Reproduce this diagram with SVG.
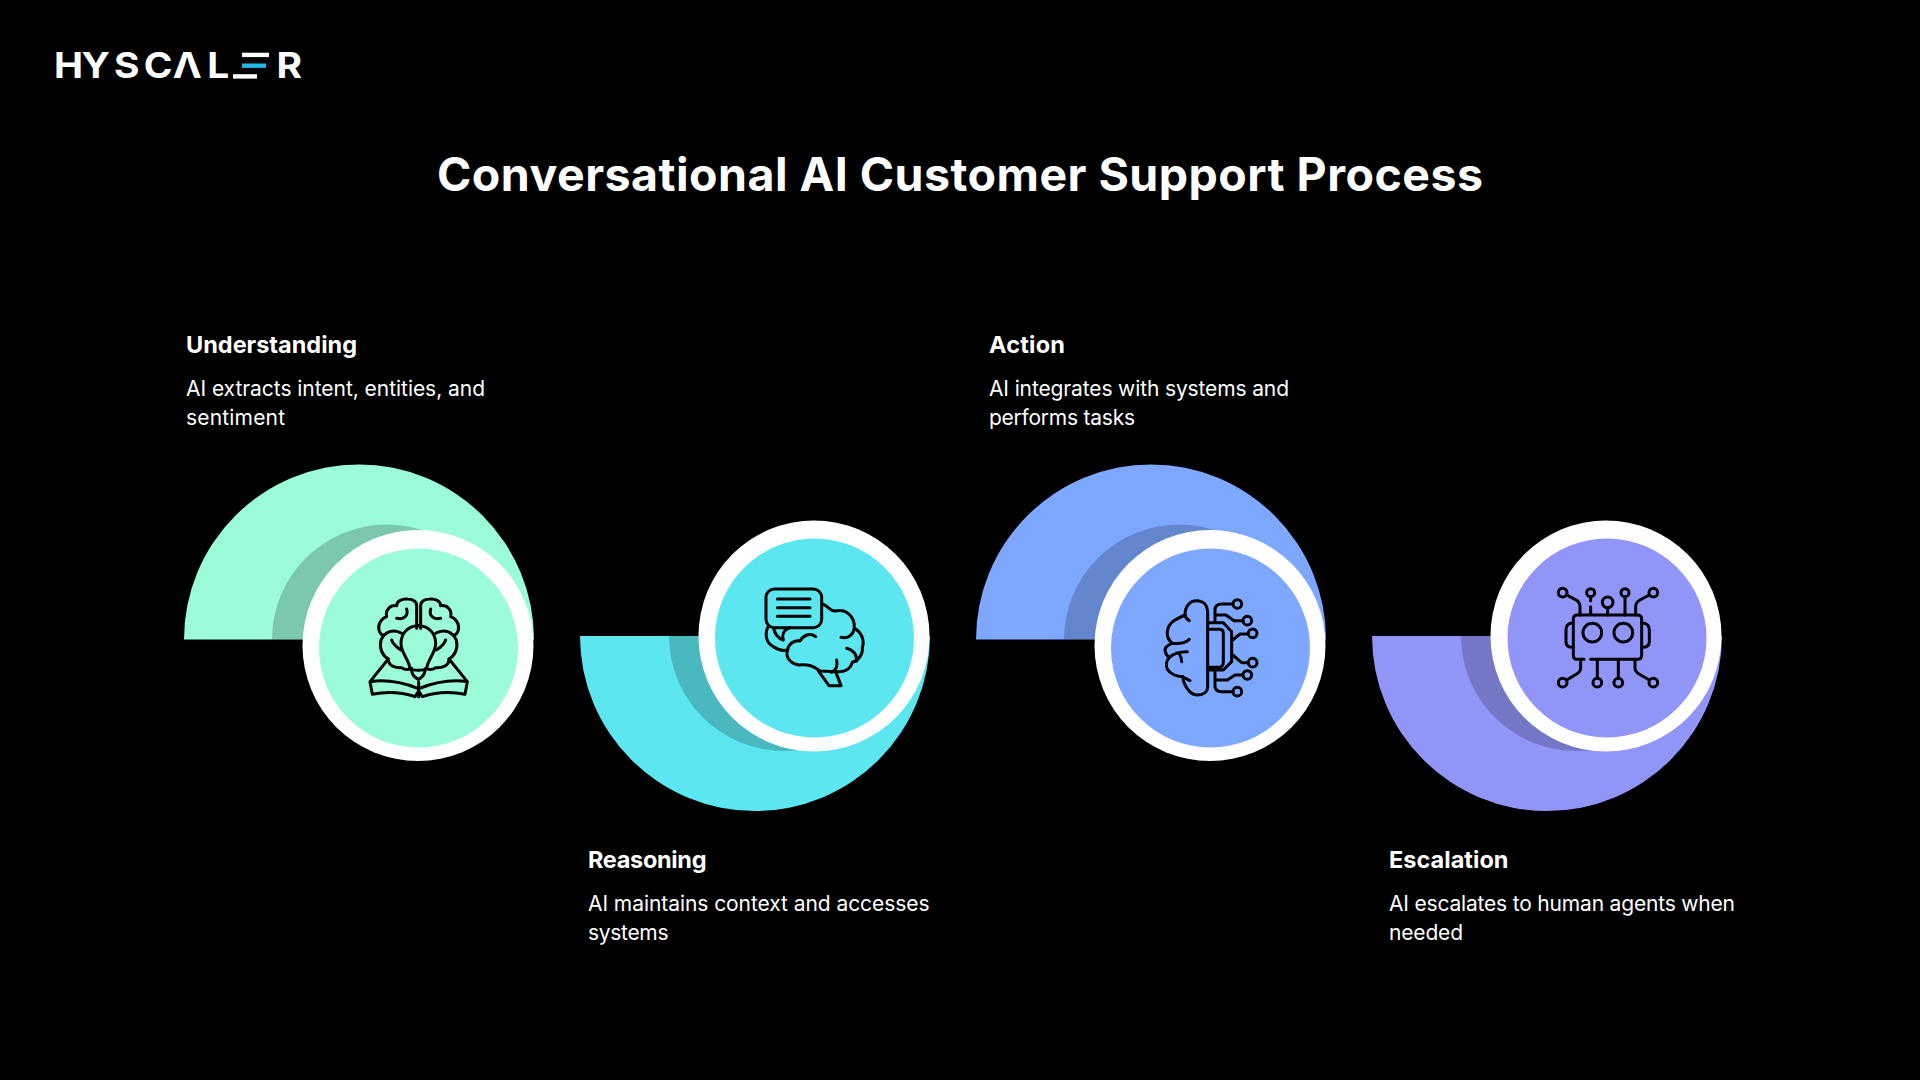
<svg xmlns="http://www.w3.org/2000/svg" width="1920" height="1080" viewBox="0 0 1920 1080">
<style>
text{font-family:"Inter","Noto Sans",sans-serif;fill:#fff}
.title{font-size:46.5px;font-weight:700}
.h{font-size:23.5px;font-weight:700}
.d{font-size:21px;font-weight:400}
.logo{font-size:36px;font-weight:700}
.ring{fill:#fff}
.shade{fill:#000;fill-opacity:.2}
.ic{fill:none;stroke:#000;stroke-width:9;stroke-linecap:round;stroke-linejoin:round}
.mint{fill:#9CFBD9}.cyan{fill:#5CE6EF}.blue{fill:#7EA8FF}.purple{fill:#9195F8}
</style>
<rect width="1920" height="1080" fill="#000"/>
<g id="logo">
<text class="logo" y="78.5" transform="scale(1.08,1)"><tspan x="50">H</tspan><tspan x="75.5">Y</tspan><tspan x="105.5">S</tspan><tspan x="133">C</tspan><tspan x="160">Λ</tspan><tspan x="192">L</tspan><tspan x="256">R</tspan></text>
<rect x="242" y="52.7" width="27" height="4.4" fill="#fff"/>
<rect x="242" y="63.5" width="24" height="4.4" fill="#22B5E8"/>
<rect x="233" y="74.2" width="24" height="4.4" fill="#fff"/>
</g>
<text id="title" class="title" x="437" y="191" textLength="1046" lengthAdjust="spacing">Conversational AI Customer Support Process</text>
<g id="understanding">
<path class="mint" d="M184,639.5A175,175 0 0 1 534,639.5Z"/>
<path class="shade" d="M272,639.5A115,115 0 0 1 502,639.5Z"/>
<circle class="ring" cx="418" cy="645.5" r="115.5"/>
<circle class="mint" cx="418.5" cy="648" r="99.5"/>
<g class="ic" transform="translate(355,585) scale(.3333)">
<g id="halfA">
<path d="M185,130V62C185,48 170,42 158,42C140,40 125,50 125,62C105,60 90,75 95,95C78,100 68,120 72,135C75,145 78,150 85,150"/>
<path d="M140,145C115,130 90,140 78,165C72,190 82,212 100,222C100,240 115,250 140,248C150,255 160,255 170,250"/>
<path d="M155,72C160,90 150,105 125,100M110,165C115,180 130,190 138,195"/>
<path d="M100,222L45,290C100,282 150,295 188,310M45,290L52,328C100,318 140,322 180,335L190,320"/>
</g>
<use href="#halfA" transform="translate(382,0) scale(-1,1)"/>
<path d="M190,122C155,122 138,150 138,175C138,205 160,220 165,250C170,258 210,258 215,250C220,220 242,205 242,175C242,150 225,122 190,122Z"/>
<path d="M170,258C172,272 180,278 190,283C200,278 208,272 210,258M191,290V335"/>
</g>
<text class="h" x="186" y="352.5" textLength="171" lengthAdjust="spacing">Understanding</text>
<text class="d" x="186" y="396" textLength="299" lengthAdjust="spacing">AI extracts intent, entities, and</text>
<text class="d" x="186" y="425" textLength="99" lengthAdjust="spacing">sentiment</text>
</g>
<g id="reasoning">
<path class="cyan" d="M580,636A175,175 0 0 0 930,636Z"/>
<path class="shade" d="M669,636A115,115 0 0 0 899,636Z"/>
<circle class="ring" cx="814" cy="636" r="115.5"/>
<circle class="cyan" cx="814.5" cy="638" r="99.5"/>
<g class="ic" transform="translate(755,575) scale(.3333)">
<rect x="33" y="42" width="167" height="116" rx="25"/>
<path d="M67,72H165M67,98H165M67,124H165"/>
<path d="M55,158C60,180 70,190 85,195C80,180 85,165 105,158"/>
<path d="M205,88C222,95 225,108 240,108C275,100 300,125 298,160C318,170 330,195 322,218C325,240 305,260 292,262C285,285 265,292 245,290L195,288C170,270 160,268 130,270C105,265 90,245 98,225C100,205 120,195 135,198C145,180 165,172 182,185"/>
<path d="M38,158C28,180 35,205 55,215C70,225 85,228 98,225"/>
<path d="M258,187C278,192 295,180 298,160M275,220C295,225 305,240 305,258M245,255C248,270 245,285 230,292"/>
<path d="M190,288L222,332H258L242,290"/>
</g>
<text class="h" x="588" y="868" textLength="118.5" lengthAdjust="spacing">Reasoning</text>
<text class="d" x="588" y="911" textLength="341.5" lengthAdjust="spacing">AI maintains context and accesses</text>
<text class="d" x="588" y="940" textLength="80.5" lengthAdjust="spacing">systems</text>
</g>
<g id="action">
<path class="blue" d="M976,639.5A175,175 0 0 1 1326,639.5Z"/>
<path class="shade" d="M1064,639.5A115,115 0 0 1 1294,639.5Z"/>
<circle class="ring" cx="1210" cy="645.5" r="115.5"/>
<circle class="blue" cx="1210.5" cy="648" r="99.5"/>
<g class="ic" transform="translate(1140,580) scale(.3333)">
<path d="M203,320V100C203,75 190,62 170,62C150,62 135,78 135,105C100,120 85,130 82,155C80,172 88,183 97,190C82,195 72,205 76,215C78,225 84,230 88,232C80,240 76,255 82,268C90,282 110,290 128,290C130,315 150,345 170,345C190,345 203,335 203,320Z"/>
<path d="M135,105C136,115 142,118 148,122M148,178C135,190 115,192 97,190M142,215C120,215 100,220 88,232M125,245Q125,232 118,222M128,290C135,295 145,298 150,302"/>
<path d="M205,128H250L275,155V245L250,270H205M205,148H238Q250,148 250,160V245Q250,262 235,262H205"/>
<path d="M225,125V90Q225,72 245,72H279M228,105H258L282,122H309M278,180L300,162H325M278,225L305,248H325M230,300H262L285,285H309M225,275V318Q225,335 245,335H279"/>
<circle cx="292" cy="72" r="13"/><circle cx="322" cy="122" r="13"/><circle cx="338" cy="160" r="13"/><circle cx="338" cy="248" r="13"/><circle cx="322" cy="285" r="13"/><circle cx="292" cy="335" r="13"/>
</g>
<text class="h" x="989" y="352.5" textLength="76" lengthAdjust="spacing">Action</text>
<text class="d" x="989" y="396" textLength="300" lengthAdjust="spacing">AI integrates with systems and</text>
<text class="d" x="989" y="425" textLength="146" lengthAdjust="spacing">performs tasks</text>
</g>
<g id="escalation">
<path class="purple" d="M1372,636A175,175 0 0 0 1722,636Z"/>
<path class="shade" d="M1461,636A115,115 0 0 0 1691,636Z"/>
<circle class="ring" cx="1606" cy="636" r="115.5"/>
<circle class="purple" cx="1607" cy="638" r="99.5"/>
<g class="ic" transform="translate(1540,570) scale(.3333)">
<path d="M132,268H112Q100,268 100,255V148Q100,135 112,135H292Q305,135 305,148V255Q305,268 292,268H152"/>
<path d="M98,160H90Q78,165 78,180V215Q78,230 95,232M305,160H315Q328,165 328,180V215Q328,230 310,232"/>
<circle cx="157" cy="188" r="28"/><circle cx="250" cy="188" r="28"/>
<path d="M80,75L105,88Q120,95 120,110V135M328,75L300,90Q287,97 287,110V135M152,80V92M152,110V133M203,113V135M255,80V135"/>
<circle cx="68" cy="68" r="13"/><circle cx="340" cy="68" r="13"/><circle cx="152" cy="68" r="12"/><circle cx="203" cy="97" r="16"/><circle cx="255" cy="68" r="12"/>
<path d="M122,275V295Q122,305 110,312L80,330M172,270V325M235,270V325M285,270V295Q285,305 297,312L328,330"/>
<circle cx="68" cy="338" r="13"/><circle cx="172" cy="338" r="13"/><circle cx="235" cy="338" r="13"/><circle cx="340" cy="338" r="13"/>
</g>
<text class="h" x="1389" y="868" textLength="119.5" lengthAdjust="spacing">Escalation</text>
<text class="d" x="1389" y="911" textLength="346" lengthAdjust="spacing">AI escalates to human agents when</text>
<text class="d" x="1389" y="940" textLength="74" lengthAdjust="spacing">needed</text>
</g>
</svg>
